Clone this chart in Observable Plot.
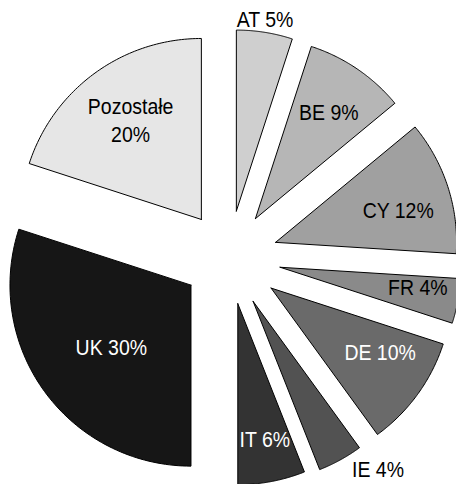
<!DOCTYPE html>
<html>
<head>
<meta charset="utf-8">
<script src="https://cdn.jsdelivr.net/npm/d3@7"></script>
<script src="https://cdn.jsdelivr.net/npm/@observablehq/plot@0.6"></script>
<style>
  html, body { margin: 0; padding: 0; background: #fff; }
  #chart svg { display: block; }
</style>
</head>
<body>
<div id="chart"></div>
<script>
// ---- data ----
const countries = ["AT", "BE", "CY", "FR", "DE", "IE", "IT", "UK", "Pozostałe"];
const shares = [5, 9, 12, 4, 10, 4, 6, 30, 20];

// ---- styles / layout ----
const fills = ["#cfcfcf", "#b6b6b6", "#a0a0a0", "#8a8a8a", "#6a6a6a", "#525252", "#333333", "#161616", "#e6e6e6"];
const textColors = ["#000", "#000", "#000", "#000", "#fff", "#000", "#fff", "#fff", "#000"];
const explodePx = [47, 47, 49, 52, 52, 50, 47, 47, 47];
const labelAngle = [8.5, 34.8, 75.4, 98.6, 120.6, 143.5, 168.8, 231.8, 324.3];
const labelDist = [1.07, 0.71, 0.70, 0.77, 0.70, 1.16, 0.77, 0.56, 0.67];

const W = 456, H = 484, R = 181, CX = 228.5, CY = 257;

const data = countries.map((c, i) => ({
  name: c, share: shares[i], fill: fills[i], tcolor: textColors[i],
  explode: explodePx[i] / R, la: labelAngle[i] * Math.PI / 180, ld: labelDist[i]
}));
const arcs = d3.pie().sort(null).value(d => d.share)(data);

const pts = [];
const labs = [];
arcs.forEach(a => {
  const d = a.data;
  const mid = (a.startAngle + a.endAngle) / 2;
  const ax = d.explode * Math.sin(mid), ay = -d.explode * Math.cos(mid);
  pts.push({name: d.name, fill: d.fill, x: ax, y: ay});
  const n = 80;
  for (let k = 0; k <= n; k++) {
    const t = a.startAngle + (a.endAngle - a.startAngle) * k / n;
    pts.push({name: d.name, fill: d.fill, x: ax + Math.sin(t), y: ay - Math.cos(t)});
  }
  pts.push({name: d.name, fill: d.fill, x: ax, y: ay});
  const lbl = d.name === "Pozostałe" ? `${d.name}\n${d.share}%` : `${d.name} ${d.share}%`;
  labs.push({text: lbl, color: d.tcolor, x: ax + d.ld * Math.sin(d.la), y: ay - d.ld * Math.cos(d.la)});
});

const chart = Plot.plot({
  width: W, height: H,
  margin: 0,
  style: {background: "#fff", fontFamily: "'Liberation Sans', Arial, sans-serif"},
  x: {domain: [-CX / R, (W - CX) / R], range: [0, W], axis: null},
  y: {domain: [-CY / R, (H - CY) / R], range: [0, H], axis: null},
  color: {type: "identity"},
  marks: [
    Plot.line(pts, {x: "x", y: "y", z: "name", fill: "fill", stroke: "#000", strokeWidth: 1, strokeLinejoin: "miter", curve: "linear"}),
    Plot.text(labs, {x: "x", y: "y", text: "text", fill: "color", fontSize: 19.5, lineHeight: 1.3, textAnchor: "middle", dy: -2})
  ]
});
document.getElementById("chart").appendChild(chart);
// slight vertical stretch of the label glyphs as in the reference
chart.querySelectorAll("g[aria-label='text'] text").forEach(t => {
  const tr = t.getAttribute("transform") || "";
  t.setAttribute("transform", tr + " scale(1,1.12)");
});
</script>
</body>
</html>
